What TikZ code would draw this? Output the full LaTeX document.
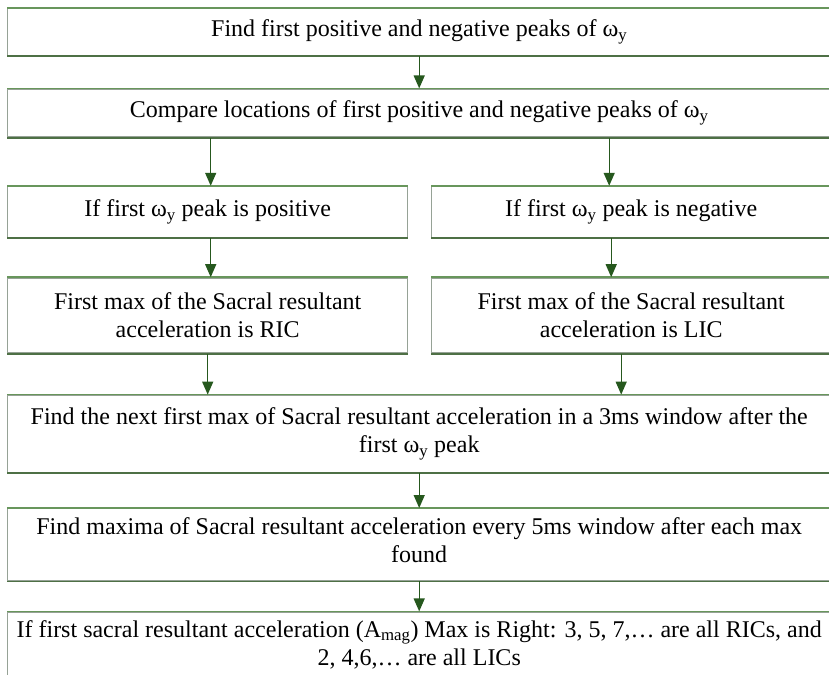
\documentclass[tikz,border=0pt]{standalone}
\usepackage{fontspec}
\setmainfont{Liberation Serif}
\usetikzlibrary{arrows.meta,positioning}
\definecolor{boxgray}{RGB}{150,162,150}
\definecolor{edgegreen}{RGB}{104,150,92}
\definecolor{arrowgreen}{RGB}{38,88,30}
\tikzset{
    %Define standard arrow tip
    >={Triangle[width=11pt,length=13pt]},
    %Define style for boxes
    stepbox/.style={
           rectangle,
           draw=boxgray, line width=1.4pt,
           fill=white,
           inner sep=0pt,
           align=center,
           font=\fontsize{24}{28}\selectfont},
    widebox/.style={
           stepbox,
           minimum width=823pt},
    halfbox/.style={
           stepbox,
           minimum width=400pt},
    % Define arrow style
    pil/.style={
           ->,
           draw=arrowgreen,
           line width=1.4pt}
}
\begin{document}
\begin{tikzpicture}[x=1pt, y=1pt]
 \useasboundingbox[fill=white] (0,0) rectangle (829,-674);

 \node[widebox, minimum height=47pt, anchor=north west] (find) at (7,-8)
 	{Find first positive and negative peaks of ω\textsubscript{y}};

 \node[widebox, minimum height=48pt, below=32pt of find] (compare)
 	{Compare locations of first positive and negative peaks of ω\textsubscript{y}};

 \node[halfbox, minimum height=51pt, below=48pt of compare.south west, anchor=north west] (pos)
 	{If first ω\textsubscript{y} peak is positive};
 \node[halfbox, minimum width=399pt, minimum height=51pt, below=48pt of compare.south east, anchor=north east] (neg)
 	{If first ω\textsubscript{y} peak is negative};

 \node[halfbox, minimum height=75pt, below=39pt of pos] (ricmax)
 	{First max of the Sacral resultant\\acceleration is RIC};
 \node[halfbox, minimum width=399pt, minimum height=75pt, below=39pt of neg] (licmax)
 	{First max of the Sacral resultant\\acceleration is LIC};

 \node[widebox, minimum height=77pt, below=41pt of ricmax.south west, anchor=north west] (next)
 	{Find the next first max of Sacral resultant acceleration in a 3ms window after the\\first ω\textsubscript{y} peak};

 \node[widebox, minimum height=72pt, text depth=9pt, below=35pt of next] (maxima)
 	{Find maxima of Sacral resultant acceleration every 5ms window after each max\\found};

 \node[widebox, minimum height=77pt, text depth=16pt, below=30pt of maxima] (label)
 	{If first sacral resultant acceleration (A\textsubscript{mag}) Max is Right: 3, 5, 7,… are all RICs, and\\2, 4,6,… are all LICs};

 % green top and bottom edges
 \foreach \b in {find,compare,pos,neg,ricmax,licmax,next,maxima,label}{
 	\draw[edgegreen, line width=1.6pt] (\b.north west) -- (\b.north east);
 	\draw[edgegreen!75!black, line width=1.8pt] (\b.south west) -- (\b.south east);
 }

 % arrows
 \draw[pil] (find) -- (compare);
 \draw[pil] ([xshift=3pt]pos.north |- compare.south) -- ([xshift=3pt]pos.north);
 \draw[pil] ([xshift=-22pt]neg.north |- compare.south) -- ([xshift=-22pt]neg.north);
 \draw[pil] ([xshift=3pt]pos.south) -- ([xshift=3pt]ricmax.north);
 \draw[pil] ([xshift=-20pt]neg.south) -- ([xshift=-20pt]licmax.north);
 \draw[pil] (ricmax.south) -- (ricmax.south |- next.north);
 \draw[pil] ([xshift=-10pt]licmax.south) -- ([xshift=-10pt]licmax.south |- next.north);
 \draw[pil] (next) -- (maxima);
 \draw[pil] (maxima) -- (label);

\end{tikzpicture}
\end{document}
